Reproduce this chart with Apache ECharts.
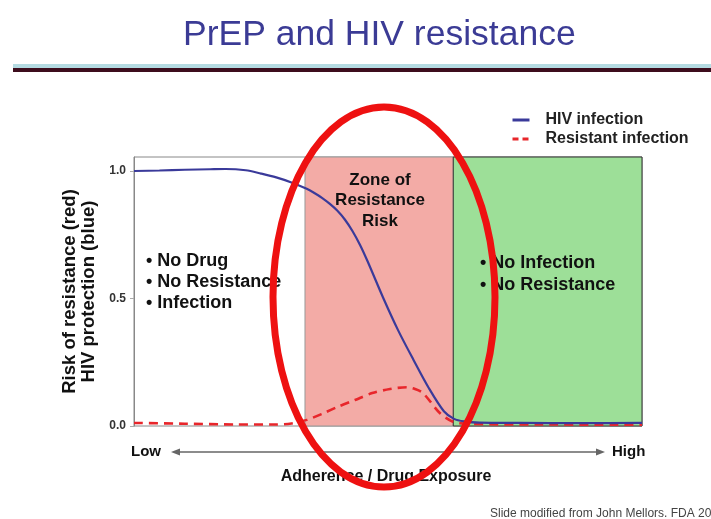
<!DOCTYPE html>
<html><head><meta charset="utf-8">
<script src="https://cdn.jsdelivr.net/npm/echarts@6/dist/echarts.min.js"></script>
<style>html,body{margin:0;padding:0;background:#fff}#c{width:711px;height:519px}</style>
</head><body><div id="c"></div>
<script>
// ---- data ----
const hivX = [0, 5, 10, 15, 18, 22, 25, 28, 31, 34, 35.5, 37, 38.5, 40, 41.5, 43, 44.5, 46, 49, 52, 55, 58, 61, 63, 65, 68, 76, 88, 100];
const hivY = [1.0, 1.002, 1.005, 1.007, 1.008, 1.003, 0.99, 0.975, 0.955, 0.93, 0.914, 0.895, 0.872, 0.845, 0.81, 0.765, 0.71, 0.645, 0.505, 0.375, 0.26, 0.15, 0.058, 0.028, 0.018, 0.013, 0.012, 0.011, 0.012];
const resX = [0, 10, 20, 28, 31, 34, 37.3, 40.2, 43.5, 46.9, 50.4, 53.7, 55.3, 56.9, 60.2, 62.8, 66, 80, 100];
const resY = [0.012, 0.009, 0.006, 0.006, 0.01, 0.024, 0.05, 0.076, 0.102, 0.129, 0.145, 0.152, 0.145, 0.129, 0.051, 0.017, 0.008, 0.006, 0.005];
const zoneRisk = [33.66, 62.85];
const zoneSafe = [62.85, 100];
const yTicks = [0, 0.5, 1.0];
const seriesNames = ['HIV infection', 'Resistant infection'];

const F = 'Liberation Sans, Arial, sans-serif';
const chart = echarts.init(document.getElementById('c'), null, {renderer: 'canvas'});
const zip = (xs, ys) => xs.map((x, i) => [x, ys[i]]);

chart.setOption({
  animation: false,
  backgroundColor: '#fff',
  grid: {left: 134, right: 69, top: 157, bottom: 93, show: true, borderColor: '#888', borderWidth: 1, backgroundColor: 'transparent'},
  legend: {
    orient: 'vertical', left: 506, top: 106, itemWidth: 17, itemHeight: 12, itemGap: 1,
    data: [
      {name: seriesNames[0], lineStyle: {width: 3}},
      {name: seriesNames[1], lineStyle: {width: 3, type: [6, 4]}}
    ],
    itemStyle: {opacity: 0},
    textStyle: {fontFamily: F, fontWeight: 'bold', fontSize: 16, color: '#222', lineHeight: 18, padding: [0, 0, 0, 11]}
  },
  xAxis: {type: 'value', min: 0, max: 100, axisLine: {show: false}, axisTick: {show: false}, axisLabel: {show: false}, splitLine: {show: false}},
  yAxis: {
    type: 'value', min: 0, max: 1.055,
    name: 'Risk of resistance (red)\nHIV protection (blue)', nameLocation: 'middle', nameRotate: 90, nameGap: 34,
    nameTextStyle: {fontFamily: F, fontWeight: 'bold', fontSize: 18.5, color: '#111', lineHeight: 19},
    axisLine: {show: true, lineStyle: {color: '#888'}},
    axisTick: {show: true, customValues: yTicks, length: 4, lineStyle: {color: '#aaa'}},
    axisLabel: {customValues: yTicks, formatter: v => v.toFixed(1), fontFamily: F, fontWeight: 'bold', fontSize: 12, color: '#333', margin: 8},
    splitLine: {show: false}
  },
  series: [
    {
      name: seriesNames[0], type: 'line', data: zip(hivX, hivY), symbol: 'none', smooth: 0.3,
      lineStyle: {color: '#3a3a9a', width: 2.2}, itemStyle: {color: '#3a3a9a'}, z: 5,
      markArea: {
        silent: true,
        data: [
          [{xAxis: zoneRisk[0], itemStyle: {color: '#f3aba6', borderColor: '#999', borderWidth: 1}}, {xAxis: zoneRisk[1]}],
          [{xAxis: zoneSafe[0], itemStyle: {color: '#9ddf98', borderColor: '#333', borderWidth: 1}}, {xAxis: zoneSafe[1]}]
        ]
      }
    },
    {
      name: seriesNames[1], type: 'line', data: zip(resX, resY), symbol: 'none', smooth: 0.3,
      lineStyle: {color: '#e8262b', width: 2.6, type: [9, 6]}, itemStyle: {color: '#e8262b'}, z: 4
    }
  ],
  graphic: [
    {type: 'text', x: 183, y: 17, style: {text: 'PrEP and HIV resistance', font: '35.5px ' + F, fill: '#3b3b95'}},
    {type: 'rect', shape: {x: 13, y: 64, width: 698, height: 4}, style: {fill: '#b5dbe2'}},
    {type: 'rect', shape: {x: 13, y: 68, width: 698, height: 4}, style: {fill: '#3d0d1d'}},
    {type: 'text', x: 146, y: 251, z: 50, style: {text: '• No Drug\n• No Resistance\n• Infection', font: 'bold 18px ' + F, fill: '#111', lineHeight: 21}},
    {type: 'text', x: 380, y: 170, z: 50, style: {text: 'Zone of\nResistance\nRisk', font: 'bold 17px ' + F, fill: '#111', lineHeight: 20.5, align: 'center'}},
    {type: 'text', x: 480, y: 252, z: 50, style: {text: '• No Infection\n• No Resistance', font: 'bold 18px ' + F, fill: '#111', lineHeight: 22}},
    {type: 'text', x: 131, y: 452, z: 50, style: {text: 'Low', font: 'bold 15px ' + F, fill: '#111', verticalAlign: 'middle'}},
    {type: 'text', x: 612, y: 452, z: 50, style: {text: 'High', font: 'bold 15px ' + F, fill: '#111', verticalAlign: 'middle'}},
    {type: 'line', shape: {x1: 176, y1: 452, x2: 600, y2: 452}, style: {stroke: '#666', lineWidth: 1.5}},
    {type: 'polygon', shape: {points: [[171, 452], [180, 448.5], [180, 455.5]]}, style: {fill: '#666'}},
    {type: 'polygon', shape: {points: [[605, 452], [596, 448.5], [596, 455.5]]}, style: {fill: '#666'}},
    {type: 'text', x: 386, y: 477, z: 50, style: {text: 'Adherence / Drug Exposure', font: 'bold 16px ' + F, fill: '#111', align: 'center', verticalAlign: 'middle'}},
    {type: 'text', x: 490, y: 514, z: 50, style: {text: 'Slide modified from John Mellors. FDA 20', font: '12px ' + F, fill: '#444', verticalAlign: 'middle'}},
    {type: 'ellipse', z: 100, shape: {cx: 384, cy: 297, rx: 111, ry: 190}, style: {fill: 'none', stroke: '#ee1111', lineWidth: 7}}
  ]
});
</script></body></html>
